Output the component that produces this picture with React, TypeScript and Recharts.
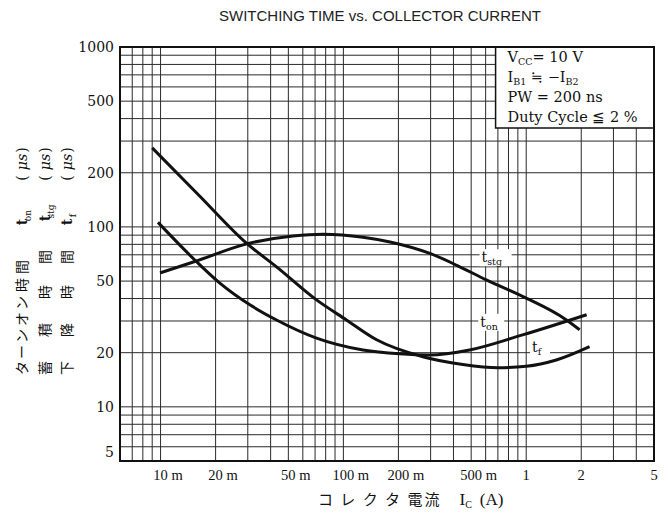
import React from "react";
import {
  LineChart,
  Line,
  XAxis,
  YAxis,
  CartesianGrid,
  ReferenceArea,
  ReferenceDot,
} from "recharts";

// collector current (A) vs switching time (us)
const tOnData = [
  { ic: 0.00968, t: 106 },
  { ic: 0.01575, t: 64 },
  { ic: 0.0211, t: 48.7 },
  { ic: 0.0308, t: 36.9 },
  { ic: 0.0431, t: 30.4 },
  { ic: 0.0713, t: 24.1 },
  { ic: 0.128, t: 20.7 },
  { ic: 0.203, t: 19.7 },
  { ic: 0.297, t: 19.4 },
  { ic: 0.49, t: 20.7 },
  { ic: 0.955, t: 25.1 },
  { ic: 2.14, t: 32.5 },
];

const tStgData = [
  { ic: 0.00993, t: 55.5 },
  { ic: 0.0154, t: 64.2 },
  { ic: 0.0296, t: 80.5 },
  { ic: 0.0531, t: 89.1 },
  { ic: 0.0775, t: 91.1 },
  { ic: 0.128, t: 87.7 },
  { ic: 0.18, t: 82.5 },
  { ic: 0.3, t: 71 },
  { ic: 0.42, t: 61 },
  { ic: 0.605, t: 50.8 },
  { ic: 0.96, t: 41 },
  { ic: 1.66, t: 30.4 },
  { ic: 1.96, t: 26.8 },
];

const tFData = [
  { ic: 0.009, t: 275 },
  { ic: 0.0162, t: 150 },
  { ic: 0.0296, t: 81 },
  { ic: 0.0431, t: 60 },
  { ic: 0.0713, t: 39.3 },
  { ic: 0.104, t: 30.4 },
  { ic: 0.152, t: 23.6 },
  { ic: 0.272, t: 19 },
  { ic: 0.45, t: 17.2 },
  { ic: 0.7, t: 16.5 },
  { ic: 1.0, t: 16.8 },
  { ic: 1.46, t: 18.2 },
  { ic: 2.22, t: 21.6 },
];

// log grid ticks
const xTicks = [
  0.006, 0.007, 0.008, 0.009, 0.01, 0.02, 0.03, 0.04, 0.05, 0.06, 0.07, 0.08,
  0.09, 0.1, 0.2, 0.3, 0.4, 0.5, 0.6, 0.7, 0.8, 0.9, 1, 2, 3, 4, 5,
];
const xLabelValues = [0.01, 0.02, 0.05, 0.1, 0.2, 0.5, 1, 2, 5];
const xLabelNums = ["10", "20", "50", "100", "200", "500", "1", "2", "5"];
const xLabelUnits = ["m", "m", "m", "m", "m", "m", "", "", ""];

const yTicks = [
  5, 6, 7, 8, 9, 10, 20, 30, 40, 50, 60, 70, 80, 90, 100, 200, 300, 400, 500,
  600, 700, 800, 900, 1000,
];
const yLabelValues = [5, 10, 20, 50, 100, 200, 500, 1000];

// curve name labels: [ic, t]
const curveLabels = [
  { name: "t", sub: "stg", ic: 0.68, t: 67 },
  { name: "t", sub: "on", ic: 0.644, t: 29.3 },
  { name: "t", sub: "f", ic: 1.19, t: 21.3 },
];

const INK = "#111";
const SERIF = "'Liberation Serif', 'Times New Roman', serif";
const DJ_SERIF = "'DejaVu Serif', serif";
const JP = "'Noto Sans CJK JP', sans-serif";

const XTick = (props: any) => {
  const { x, y, payload } = props;
  const idx = xLabelValues.indexOf(payload.value);
  if (idx < 0) return <g />;
  const num = xLabelNums[idx];
  const unit = xLabelUnits[idx];
  const numW = num.length * 7.25;
  return (
    <g fontFamily={SERIF} fontSize={14.5} fill={INK}>
      <text x={x} y={y + 19} textAnchor="middle">
        {num}
      </text>
      {unit && (
        <text x={x + numW / 2 + 3.6} y={y + 19} textAnchor="start">
          {unit}
        </text>
      )}
    </g>
  );
};

const YTick = (props: any) => {
  const { x, y, payload } = props;
  if (!yLabelValues.includes(payload.value)) return <g />;
  const dy = payload.value === 5 ? -4 : 5;
  return (
    <text
      x={x}
      y={y + dy}
      textAnchor="end"
      fontFamily={DJ_SERIF}
      fontSize={14}
      fill={INK}
    >
      {payload.value}
    </text>
  );
};

const BoxText = (props: any) => {
  const vb = props.viewBox || {};
  const x = vb.x + 12;
  const y = vb.y;
  return (
    <g fontFamily={DJ_SERIF} fontSize={14.5} fill={INK}>
      <text x={x} y={y + 15}>
        V<tspan fontSize={9.5} dy={3}>CC</tspan>
        <tspan dy={-3}>= 10  V</tspan>
      </text>
      <text x={x} y={y + 35}>
        I<tspan fontSize={9.5} dy={3}>B1</tspan>
        <tspan dy={-3}> ≒ −I</tspan>
        <tspan fontSize={9.5} dy={3}>B2</tspan>
      </text>
      <text x={x} y={y + 55}>
        PW = 200 ns
      </text>
      <text x={x} y={y + 75}>
        Duty  Cycle ≦ 2 %
      </text>
    </g>
  );
};

const makeCurveLabel = (name: string, sub: string) => (props: any) => {
  const vb = props.viewBox || {};
  const cx = vb.x + (vb.width || 0) / 2;
  const cy = vb.y + (vb.height || 0) / 2;
  const w = 10 + sub.length * 6;
  return (
    <g>
      <rect x={cx - w / 2 - 2} y={cy - 9} width={w + 4} height={17} fill="#fff" />
      <text
        x={cx - w / 2}
        y={cy + 4}
        fontFamily={DJ_SERIF}
        fontSize={14}
        fill={INK}
      >
        {name}
        <tspan fontSize={9.5} dy={3}>
          {sub}
        </tspan>
      </text>
    </g>
  );
};

const Titles = () => (
  <svg
    width={668}
    height={519}
    style={{ position: "absolute", left: 0, top: 0, pointerEvents: "none" }}
  >
    <text
      x={380}
      y={21}
      textAnchor="middle"
      fontFamily="'Liberation Sans', Arial, sans-serif"
      fontSize={15}
      fill="#222"
    >
      SWITCHING TIME vs. COLLECTOR CURRENT
    </text>

    <text x={318} y={505} fontSize={15} fill={INK}>
      <tspan fontFamily={JP} letterSpacing={2}>コ レ ク タ 電流</tspan>
      <tspan fontFamily={SERIF} fontSize={17} dx={18}>
        I
      </tspan>
      <tspan fontFamily={SERIF} fontSize={10} dy={3}>
        C
      </tspan>
      <tspan fontFamily={SERIF} fontSize={17} dy={-3} dx={8}>
        (A)
      </tspan>
    </text>

    {/* y title, three rotated columns */}
    <g fill={INK} fontSize={14}>
      <text transform="translate(22,0) rotate(-90)" textAnchor="middle">
        <tspan x={-368} y={5} fontFamily={JP}>タ</tspan>
        <tspan x={-352} y={5} fontFamily={JP}>ー</tspan>
        <tspan x={-336} y={5} fontFamily={JP}>ン</tspan>
        <tspan x={-319} y={5} fontFamily={JP}>オ</tspan>
        <tspan x={-303} y={5} fontFamily={JP}>ン</tspan>
        <tspan x={-285} y={5} fontFamily={JP}>時</tspan>
        <tspan x={-267} y={5} fontFamily={JP}>間</tspan>
        <tspan x={-222} y={5} fontFamily={DJ_SERIF} fontWeight="bold">t</tspan>
        <tspan y={9} fontFamily={DJ_SERIF} fontSize={9}>on</tspan>
        <tspan x={-178} y={5} fontFamily={DJ_SERIF}>(</tspan>
        <tspan x={-176 + 14} y={5} fontFamily={DJ_SERIF} fontStyle="italic">μs</tspan>
        <tspan x={-176 + 26} y={5} fontFamily={DJ_SERIF}>)</tspan>
      </text>
      <text transform="translate(45,0) rotate(-90)" textAnchor="middle">
        <tspan x={-368} y={5} fontFamily={JP}>蓄</tspan>
        <tspan x={-330} y={5} fontFamily={JP}>積</tspan>
        <tspan x={-292} y={5} fontFamily={JP}>時</tspan>
        <tspan x={-257} y={5} fontFamily={JP}>間</tspan>
        <tspan x={-218} y={5} fontFamily={DJ_SERIF} fontWeight="bold">t</tspan>
        <tspan y={9} fontFamily={DJ_SERIF} fontSize={9}>stg</tspan>
        <tspan x={-178} y={5} fontFamily={DJ_SERIF}>(</tspan>
        <tspan x={-176 + 14} y={5} fontFamily={DJ_SERIF} fontStyle="italic">μs</tspan>
        <tspan x={-176 + 26} y={5} fontFamily={DJ_SERIF}>)</tspan>
      </text>
      <text transform="translate(67,0) rotate(-90)" textAnchor="middle">
        <tspan x={-368} y={5} fontFamily={JP}>下</tspan>
        <tspan x={-330} y={5} fontFamily={JP}>降</tspan>
        <tspan x={-292} y={5} fontFamily={JP}>時</tspan>
        <tspan x={-257} y={5} fontFamily={JP}>間</tspan>
        <tspan x={-222} y={5} fontFamily={DJ_SERIF} fontWeight="bold">t</tspan>
        <tspan y={9} fontFamily={DJ_SERIF} fontSize={9}>f</tspan>
        <tspan x={-178} y={5} fontFamily={DJ_SERIF}>(</tspan>
        <tspan x={-176 + 14} y={5} fontFamily={DJ_SERIF} fontStyle="italic">μs</tspan>
        <tspan x={-176 + 26} y={5} fontFamily={DJ_SERIF}>)</tspan>
      </text>
    </g>
  </svg>
);

export default function App() {
  return (
    <div
      style={{
        position: "absolute",
        left: 0,
        top: 0,
        width: 668,
        height: 519,
        background: "#fff",
      }}
    >
      <LineChart
        width={668}
        height={519}
        margin={{ top: 47, right: 14, bottom: 0, left: 0 }}
      >
        <CartesianGrid stroke="#2a2a2a" strokeWidth={1} />
        <XAxis
          dataKey="ic"
          type="number"
          scale="log"
          domain={[0.006, 5]}
          ticks={xTicks}
          interval={0}
          allowDataOverflow
          tick={<XTick />}
          tickLine={false}
          axisLine={false}
          tickSize={0}
          tickMargin={0}
          height={58}
        />
        <YAxis
          type="number"
          scale="log"
          domain={[5, 1000]}
          ticks={yTicks}
          interval={0}
          allowDataOverflow
          tick={<YTick />}
          tickLine={false}
          axisLine={false}
          tickSize={0}
          tickMargin={6}
          width={120}
        />
        <ReferenceArea
          x1={0.68}
          x2={5}
          y1={355}
          y2={1000}
          fill="#fff"
          fillOpacity={1}
          stroke={INK}
          strokeWidth={1.5}
          label={(p: any) => <BoxText {...p} />}
          ifOverflow="visible"
        />
        <Line
          data={tStgData}
          dataKey="t"
          type="monotone"
          stroke={INK}
          strokeWidth={3}
          dot={false}
          isAnimationActive={false}
        />
        <Line
          data={tOnData}
          dataKey="t"
          type="monotone"
          stroke={INK}
          strokeWidth={3}
          dot={false}
          isAnimationActive={false}
        />
        <Line
          data={tFData}
          dataKey="t"
          type="monotone"
          stroke={INK}
          strokeWidth={3}
          dot={false}
          isAnimationActive={false}
        />
        {curveLabels.map((c) => (
          <ReferenceDot
            key={c.sub}
            x={c.ic}
            y={c.t}
            r={0}
            fill="none"
            stroke="none"
            label={makeCurveLabel(c.name, c.sub)}
            ifOverflow="visible"
          />
        ))}
        <ReferenceArea
          x1={0.006}
          x2={5}
          y1={5}
          y2={1000}
          fill="none"
          stroke={INK}
          strokeWidth={2}
          ifOverflow="visible"
        />
      </LineChart>
      <Titles />
    </div>
  );
}
